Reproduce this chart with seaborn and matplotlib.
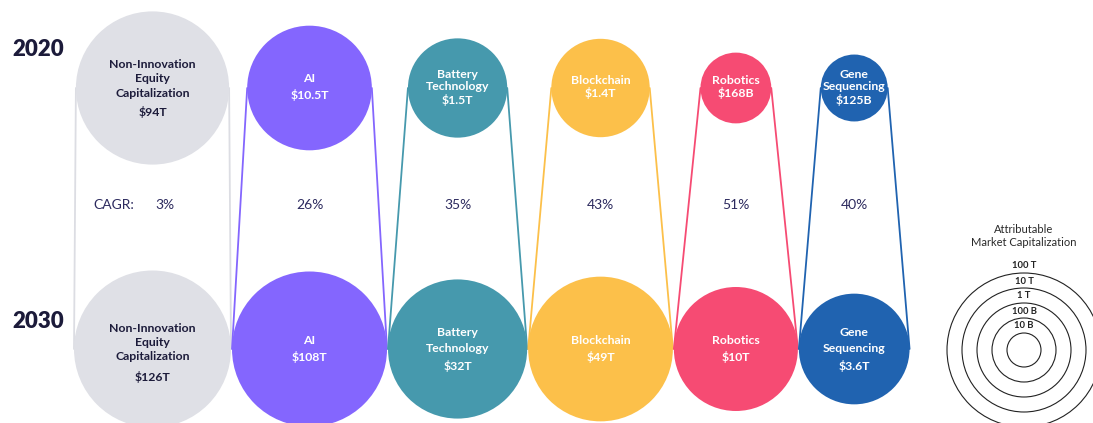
import numpy as np
import pandas as pd
import matplotlib
matplotlib.use("Agg")
import matplotlib.pyplot as plt
from matplotlib.patches import Circle
import seaborn as sns

# データ（単位: 十億ドル）
categories = ["Non-Innovation\nEquity\nCapitalization", "AI", "Battery\nTechnology",
              "Blockchain", "Robotics", "Gene\nSequencing"]
cap_2020 = [94000, 10500, 1500, 1400, 168, 125]
cap_2030 = [126000, 108000, 32000, 49000, 10000, 3600]
cagr = ["3%", "26%", "35%", "43%", "51%", "40%"]
years = ["2020", "2030"]
legend_levels = [10, 100, 1000, 10000, 100000]
legend_labels = ["10 B", "100 B", "1 T", "10 T", "100 T"]

colors = ["#dfe0e6", "#8466fe", "#4699ad", "#fcc04a", "#f64b73", "#2063b0"]
line_colors = ["#dcdde3", "#8466fe", "#4699ad", "#fcc04a", "#f64b73", "#2063b0"]
NAVY = "#2c2a5e"
DARK = "#1c1b3a"

W, H = 1093, 423
Y_TOP, Y_BOT, Y_CAGR = 88, 349, 205


def radius(v):
    """対数スケールで半径（ピクセル）を計算"""
    return 47 + 15 * np.log10(v / 1000)


def fmt(v):
    return f"${v / 1000:g}T" if v >= 1000 else f"${v:g}B"


sns.set_theme(style="white")
plt.rcParams['font.family'] = ['Lato', 'DejaVu Sans']

fig = plt.figure(figsize=(W / 100, H / 100), dpi=100)
ax = fig.add_axes([0, 0, 1, 1])

r_top = [radius(v) for v in cap_2020]
r_bot = [radius(v) for v in cap_2030]

# 列の位置: 下段の円を詰めて並べる
centers = []
x = 74
for i, r in enumerate(r_bot):
    x = x + r if i == 0 else x + r_bot[i - 1] + 1 + r
    centers.append(x)

# 接続線
rows = []
for i, cat in enumerate(categories):
    for side, s in (("L", -1), ("R", 1)):
        rows.append(dict(cat=cat, side=side, x=centers[i] + s * r_top[i], y=Y_TOP))
        rows.append(dict(cat=cat, side=side, x=centers[i] + s * r_bot[i], y=Y_BOT))
seg = pd.DataFrame(rows)
sns.lineplot(data=seg, x="x", y="y", hue="cat", units="side", estimator=None,
             sort=False, palette=dict(zip(categories, line_colors)),
             legend=False, lw=1.3, ax=ax, zorder=1)
ax.set_xlim(0, W)
ax.set_ylim(H, 0)
ax.axis("off")


def circle_text(cx, cy, name, value, step, color, value_gap=None):
    lines = name.split("\n")
    gap = value_gap if value_gap else step
    total = step * (len(lines) - 1) + gap
    y0 = cy - total / 2
    for k, ln in enumerate(lines):
        ax.text(cx, y0 + k * step, ln, ha="center", va="center", fontsize=8.8,
                fontweight="bold", color=color, zorder=4)
    ax.text(cx, y0 + step * (len(lines) - 1) + gap, value, ha="center", va="center",
            fontsize=8.8, fontweight="bold", color=color, zorder=4)


for i, cat in enumerate(categories):
    cx = centers[i]
    ax.add_patch(Circle((cx, Y_TOP), r_top[i], color=colors[i], lw=0, zorder=2))
    ax.add_patch(Circle((cx, Y_BOT), r_bot[i], color=colors[i], lw=0, zorder=2))
    tc = DARK if i == 0 else "white"
    if i == 0:
        circle_text(cx, Y_TOP, cat, fmt(cap_2020[i]), 14.5, tc, 18.5)
        circle_text(cx, Y_BOT + 4, cat, fmt(cap_2030[i]), 14, tc, 20)
    else:
        step_top = 16 if r_top[i] > 55 else 12.5
        circle_text(cx, Y_TOP - 1, cat, fmt(cap_2020[i]), step_top, tc)
        circle_text(cx, Y_BOT, cat, fmt(cap_2030[i]), 16.5, tc)
    ax.text(cx + (12 if i == 0 else 0), Y_CAGR, cagr[i], ha="center", va="center",
            fontsize=10, color=NAVY)

ax.text(93, Y_CAGR, "CAGR:", ha="left", va="center", fontsize=10, color=NAVY)

# 年ラベル
ax.text(12, 49, years[0], ha="left", va="center", fontsize=16, fontweight="heavy", color=DARK)
ax.text(12, 321, years[1], ha="left", va="center", fontsize=16, fontweight="heavy", color=DARK)

# 凡例（同心円）
lx, ly = 1024, 350
ax.text(lx, 236, "Attributable\nMarket Capitalization", ha="center", va="center",
        fontsize=8, color="#2a2a2a", linespacing=1.25)
for lv, lab in zip(legend_levels, legend_labels):
    r = radius(lv)
    ax.add_patch(Circle((lx, ly), r, fill=False, ec="#222222", lw=0.8, zorder=3))
    ax.text(lx, ly - r - 7, lab, ha="center", va="center", fontsize=6.8,
            fontweight="bold", color="#222222")

fig.savefig("out.png", dpi=100)
